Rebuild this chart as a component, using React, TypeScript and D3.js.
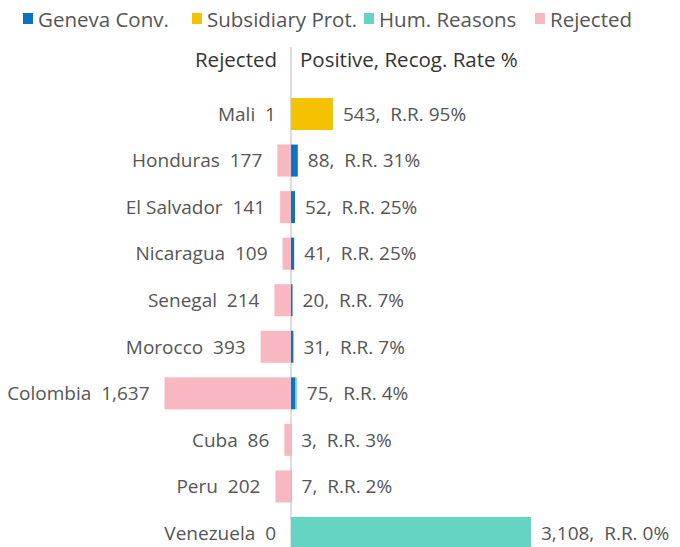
import React from "react";
import * as d3 from "d3";

const countries = ["Mali", "Honduras", "El Salvador", "Nicaragua", "Senegal", "Morocco", "Colombia", "Cuba", "Peru", "Venezuela"];
const rejected = [1, 177, 141, 109, 214, 393, 1637, 86, 202, 0];
const geneva = [0, 88, 52, 41, 20, 31, 52, 2, 2, 0];
const subsidiary = [543, 0, 0, 0, 0, 0, 0, 0, 0, 0];
const humReasons = [0, 0, 0, 0, 0, 0, 23, 1, 5, 3108];
const recogRate = [95, 31, 25, 25, 7, 7, 4, 3, 2, 0];

const legendItems = [
  { label: "Geneva Conv.", color: "#0f72c0" },
  { label: "Subsidiary Prot.", color: "#f5c200" },
  { label: "Hum. Reasons", color: "#66d3c3" },
  { label: "Rejected", color: "#f8b8c1" },
];

const W = 680, H = 547;
const FONT = "'Open Sans', sans-serif";

export default function App() {
  const axisX = 291;
  const k = d3.scaleLinear().domain([0, 3108]).range([0, 240]);
  const y = d3.scaleBand<string>().domain(countries).range([98, 549]).paddingInner(0.3125).paddingOuter(0);
  const fmt = d3.format(",");
  const legendX = [23, 192, 364, 535];

  return (
    <svg width={W} height={H} style={{ position: "absolute", left: 0, top: 0, fontFamily: FONT }}>
      {legendItems.map((it, i) => (
        <g key={it.label}>
          <rect x={legendX[i]} y={13} width={10} height={11} fill={it.color} />
          <text x={legendX[i] + 15} y={26.7} fontSize={20.5} fill="#555">{it.label}</text>
        </g>
      ))}
      <text x={277} y={66.5} textAnchor="end" fontSize={20.5} fontWeight={500} fill="#333">Rejected</text>
      <text x={300} y={66.5} fontSize={20.5} fontWeight={500} fill="#333">Positive, Recog. Rate %</text>
      <line x1={axisX} x2={axisX} y1={47} y2={H} stroke="#bbb" strokeWidth={1} />
      {countries.map((c, i) => {
        const y0 = y(c)!;
        const bh = y.bandwidth();
        const rw = k(rejected[i]);
        const segs = [
          { v: geneva[i], color: legendItems[0].color },
          { v: subsidiary[i], color: legendItems[1].color },
          { v: humReasons[i], color: legendItems[2].color },
        ];
        let acc = axisX;
        const total = geneva[i] + subsidiary[i] + humReasons[i];
        const posEnd = axisX + k(total);
        return (
          <g key={c}>
            <rect x={axisX - rw} y={y0} width={rw} height={bh} fill={legendItems[3].color} />
            {segs.map((s, j) => {
              const w = k(s.v);
              const r = <rect key={j} x={acc} y={y0} width={w} height={bh} fill={s.color} />;
              acc += w;
              return r;
            })}
            <text x={axisX - rw - 15} y={y0 + bh / 2 + 6.8} textAnchor="end" fontSize={19} fill="#555" style={{ whiteSpace: "pre" }}>
              {`${c}  ${fmt(rejected[i])}`}
            </text>
            <text x={posEnd + 10} y={y0 + bh / 2 + 6.8} fontSize={19} fill="#555" style={{ whiteSpace: "pre" }}>
              {`${fmt(total)},  R.R. ${recogRate[i]}%`}
            </text>
          </g>
        );
      })}
    </svg>
  );
}
